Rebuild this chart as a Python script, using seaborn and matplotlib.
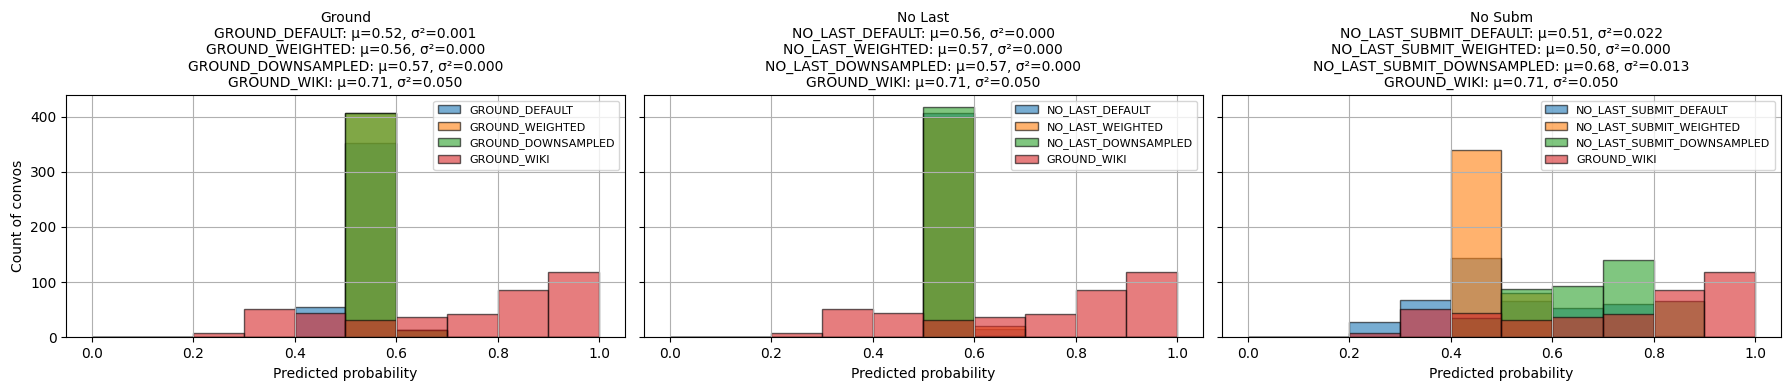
import numpy as np
import pandas as pd
import seaborn as sns
import matplotlib
matplotlib.use("Agg")
import matplotlib.pyplot as plt

# Histogram bins (predicted probability)
bin_centers = np.round(np.arange(0.05, 1.0, 0.1), 2)

# Counts per bin
wiki = [0, 0, 8, 52, 44, 32, 37, 43, 86, 119]

ground_default = [0, 0, 0, 0, 55, 353, 13, 0, 0, 0]
ground_weighted = [0, 0, 0, 0, 0, 407, 14, 0, 0, 0]
ground_downsampled = [0, 0, 0, 0, 0, 407, 14, 0, 0, 0]

no_last_default = [0, 0, 0, 0, 0, 406, 15, 0, 0, 0]
no_last_weighted = [0, 0, 0, 0, 0, 400, 21, 0, 0, 0]
no_last_downsampled = [0, 0, 0, 0, 0, 418, 3, 0, 0, 0]

no_subm_default = [0, 1, 28, 68, 143, 65, 54, 60, 2, 0]
no_subm_weighted = [0, 0, 0, 0, 340, 81, 0, 0, 0, 0]
no_subm_downsampled = [0, 0, 0, 0, 35, 88, 93, 140, 65, 0]

panel_titles = ["Ground", "No Last", "No Subm"]
panel_series = [
    [("GROUND_DEFAULT", ground_default, "0.52", "0.001"),
     ("GROUND_WEIGHTED", ground_weighted, "0.56", "0.000"),
     ("GROUND_DOWNSAMPLED", ground_downsampled, "0.57", "0.000"),
     ("GROUND_WIKI", wiki, "0.71", "0.050")],
    [("NO_LAST_DEFAULT", no_last_default, "0.56", "0.000"),
     ("NO_LAST_WEIGHTED", no_last_weighted, "0.57", "0.000"),
     ("NO_LAST_DOWNSAMPLED", no_last_downsampled, "0.57", "0.000"),
     ("GROUND_WIKI", wiki, "0.71", "0.050")],
    [("NO_LAST_SUBMIT_DEFAULT", no_subm_default, "0.51", "0.022"),
     ("NO_LAST_SUBMIT_WEIGHTED", no_subm_weighted, "0.50", "0.000"),
     ("NO_LAST_SUBMIT_DOWNSAMPLED", no_subm_downsampled, "0.68", "0.013"),
     ("GROUND_WIKI", wiki, "0.71", "0.050")],
]
colors = ["tab:blue", "tab:orange", "tab:green", "tab:red"]

fig, axes = plt.subplots(1, 3, figsize=(17.9, 3.9), dpi=100, sharey=True)

for ax, title, series in zip(axes, panel_titles, panel_series):
    lines = [title]
    for (name, counts, mu, var), c in zip(series, colors):
        df = pd.DataFrame({"p": bin_centers, "n": counts})
        sns.histplot(data=df, x="p", weights="n", bins=10, binrange=(0, 1),
                     ax=ax, color=c, alpha=0.6, edgecolor=(0, 0, 0, 0.6),
                     linewidth=1, label=name)
        lines.append(f"{name}: μ={mu}, σ²={var}")
    ax.set_title("\n".join(lines), fontsize=10)
    ax.set_xlabel("Predicted probability")
    ax.set_ylabel("")
    ax.grid(True)
    ax.legend(loc="upper right", fontsize=8)

axes[0].set_ylabel("Count of convos")
plt.subplots_adjust(left=0.037, right=0.9947, bottom=0.135, top=0.756,
                    wspace=0.0353)
plt.savefig("out.png", dpi=100)
plt.close()
